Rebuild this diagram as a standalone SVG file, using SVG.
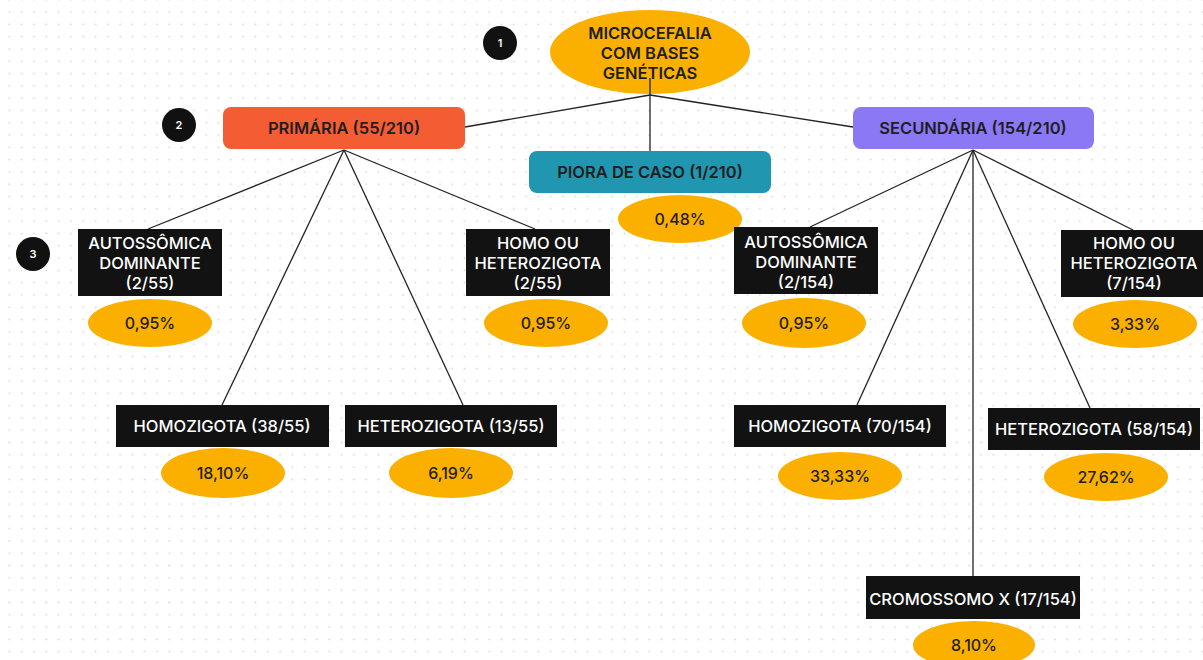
<svg xmlns="http://www.w3.org/2000/svg" width="1203" height="660" viewBox="0 0 1203 660">
<defs>
<pattern id="dots" x="3.4" y="5.9" width="12.3" height="12.3" patternUnits="userSpaceOnUse">
<circle cx="6.1" cy="6.1" r="1" fill="#dadada"/>
</pattern>
<style>
.bg{fill:#ffffff}
.amb{fill:#fbb000}
.blk{fill:#121212}
.badge{fill:#111111}
.bt{font-family:Inter,"Liberation Sans",sans-serif;font-size:11px;font-weight:600;fill:#ffffff;text-anchor:middle;dominant-baseline:central}
.ht{font-family:Inter,"Liberation Sans",sans-serif;font-size:16.5px;font-weight:600;fill:#1e1e1e;text-anchor:middle;dominant-baseline:central}
.wt{font-family:Inter,"Liberation Sans",sans-serif;font-size:16.5px;font-weight:500;fill:#ffffff;text-anchor:middle;dominant-baseline:central}
.pt{font-family:Inter,"Liberation Sans",sans-serif;font-size:16px;font-weight:500;fill:#1e1e1e;text-anchor:middle;dominant-baseline:central}
.cn{stroke:#222222;stroke-width:1.3;fill:none}
</style>
</defs>
<rect class="bg" x="0" y="0" width="1203" height="660"/>
<rect x="0" y="0" width="1203" height="660" fill="url(#dots)"/>

<g id="badge1"><circle class="badge" cx="500" cy="43" r="17"/><text class="bt" x="500" y="43">1</text></g>
<g id="badge2"><circle class="badge" cx="179" cy="125" r="17"/><text class="bt" x="179" y="125">2</text></g>
<g id="badge3"><circle class="badge" cx="33" cy="254" r="17"/><text class="bt" x="33" y="254">3</text></g>

<g id="root"><ellipse class="amb" cx="650" cy="52" rx="100" ry="42"/>
<text class="ht" x="650" y="33">MICROCEFALIA</text>
<text class="ht" x="650" y="53">COM BASES</text>
<text class="ht" x="650" y="73">GENÉTICAS</text></g>

<g id="connectors">
<line class="cn" x1="650" y1="78" x2="650" y2="151"/>
<line class="cn" x1="650" y1="95" x2="465" y2="127"/>
<line class="cn" x1="650" y1="95" x2="853" y2="127"/>
<line class="cn" x1="344" y1="150" x2="148" y2="229"/>
<line class="cn" x1="344" y1="150" x2="222" y2="405"/>
<line class="cn" x1="344" y1="150" x2="463" y2="405"/>
<line class="cn" x1="344" y1="150" x2="535" y2="229"/>
<line class="cn" x1="973" y1="150" x2="810" y2="227"/>
<line class="cn" x1="973" y1="150" x2="857" y2="405"/>
<line class="cn" x1="973" y1="150" x2="973" y2="576"/>
<line class="cn" x1="973" y1="150" x2="1090" y2="408"/>
<line class="cn" x1="973" y1="150" x2="1133" y2="230"/>
</g>

<g id="primaria"><rect x="223" y="107" width="242" height="42" rx="8" fill="#f45d33"/>
<text class="ht" x="344" y="128">PRIMÁRIA (55/210)</text></g>

<g id="piora"><rect x="529" y="151" width="242" height="42" rx="8" fill="#2196b0"/>
<text class="ht" x="650" y="172">PIORA DE CASO (1/210)</text></g>
<g id="p048"><ellipse class="amb" cx="680" cy="219" rx="62" ry="24"/><text class="pt" x="680" y="219">0,48%</text></g>

<g id="secundaria"><rect x="853" y="107" width="241" height="42" rx="8" fill="#8b78f5"/>
<text class="ht" x="973" y="128">SECUNDÁRIA (154/210)</text></g>

<g id="autoL"><rect class="blk" x="78" y="229" width="144" height="67"/>
<text class="wt" x="150" y="243">AUTOSSÔMICA</text>
<text class="wt" x="150" y="263">DOMINANTE</text>
<text class="wt" x="150" y="283">(2/55)</text></g>
<g id="pAutoL"><ellipse class="amb" cx="150" cy="323" rx="62" ry="24"/><text class="pt" x="150" y="323">0,95%</text></g>

<g id="homoHetL"><rect class="blk" x="466" y="229" width="144" height="67"/>
<text class="wt" x="538" y="243">HOMO OU</text>
<text class="wt" x="538" y="263">HETEROZIGOTA</text>
<text class="wt" x="538" y="283">(2/55)</text></g>
<g id="pHomoHetL"><ellipse class="amb" cx="546" cy="323" rx="62" ry="24"/><text class="pt" x="546" y="323">0,95%</text></g>

<g id="homozL"><rect class="blk" x="116" y="405" width="213" height="42"/>
<text class="wt" x="222" y="426">HOMOZIGOTA (38/55)</text></g>
<g id="pHomozL"><ellipse class="amb" cx="223" cy="473" rx="62" ry="25"/><text class="pt" x="223" y="473">18,10%</text></g>

<g id="heterozL"><rect class="blk" x="345" y="405" width="212" height="42"/>
<text class="wt" x="451" y="426">HETEROZIGOTA (13/55)</text></g>
<g id="pHeterozL"><ellipse class="amb" cx="451" cy="473" rx="62" ry="25"/><text class="pt" x="451" y="473">6,19%</text></g>

<g id="autoR"><rect class="blk" x="734" y="227" width="144" height="67"/>
<text class="wt" x="806" y="242">AUTOSSÔMICA</text>
<text class="wt" x="806" y="262">DOMINANTE</text>
<text class="wt" x="806" y="282">(2/154)</text></g>
<g id="pAutoR"><ellipse class="amb" cx="804" cy="323" rx="62" ry="25"/><text class="pt" x="804" y="323">0,95%</text></g>

<g id="homoHetR"><rect class="blk" x="1061" y="230" width="142" height="67"/>
<text class="wt" x="1134" y="243">HOMO OU</text>
<text class="wt" x="1134" y="263">HETEROZIGOTA</text>
<text class="wt" x="1134" y="283">(7/154)</text></g>
<g id="pHomoHetR"><ellipse class="amb" cx="1135" cy="324" rx="62" ry="24"/><text class="pt" x="1135" y="324">3,33%</text></g>

<g id="homozR"><rect class="blk" x="734" y="405" width="212" height="42"/>
<text class="wt" x="840" y="426">HOMOZIGOTA (70/154)</text></g>
<g id="pHomozR"><ellipse class="amb" cx="840" cy="476" rx="62" ry="24"/><text class="pt" x="840" y="476">33,33%</text></g>

<g id="heterozR"><rect class="blk" x="988" y="408" width="212" height="42"/>
<text class="wt" x="1094" y="429">HETEROZIGOTA (58/154)</text></g>
<g id="pHeterozR"><ellipse class="amb" cx="1106" cy="477" rx="62" ry="24"/><text class="pt" x="1106" y="477">27,62%</text></g>

<g id="cromX"><rect class="blk" x="866" y="576" width="214" height="43"/>
<text class="wt" x="973" y="599">CROMOSSOMO X (17/154)</text></g>
<g id="pCromX"><ellipse class="amb" cx="974" cy="645" rx="61" ry="24"/><text class="pt" x="974" y="645">8,10%</text></g>
</svg>
